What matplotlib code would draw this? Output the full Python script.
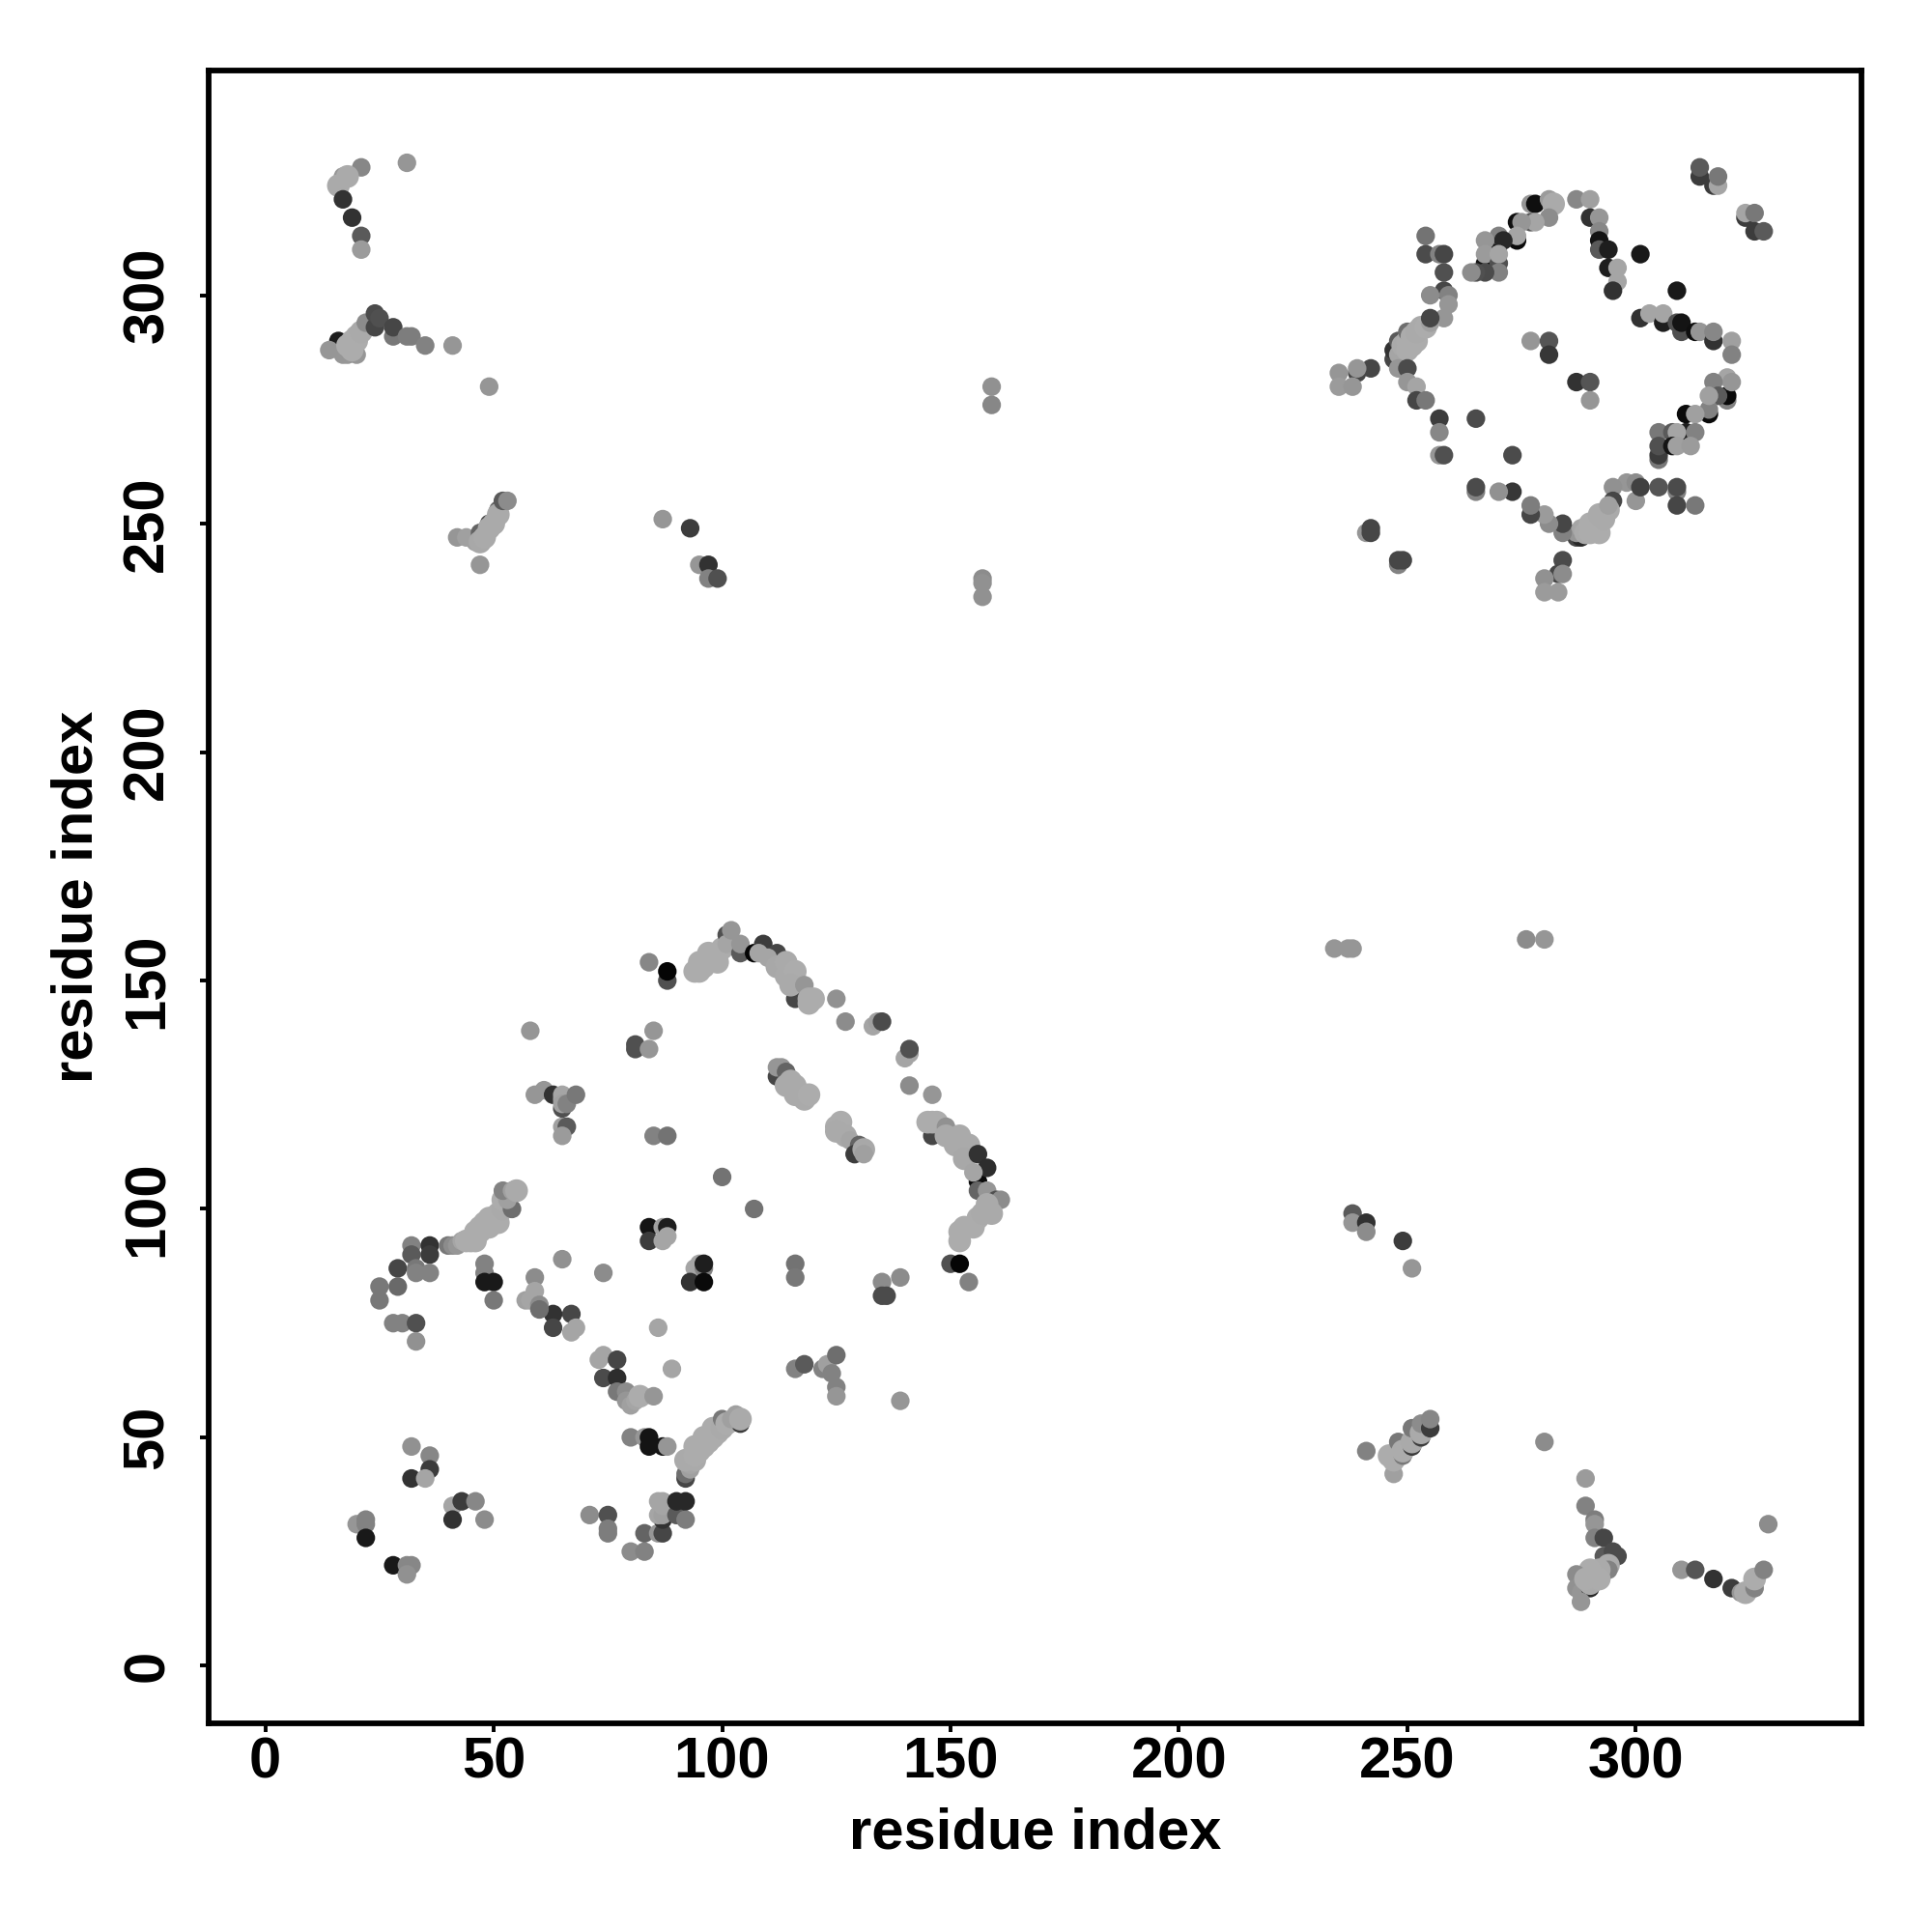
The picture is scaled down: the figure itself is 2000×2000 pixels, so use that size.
import matplotlib
matplotlib.use("Agg")
import matplotlib.pyplot as plt

# (residue i, residue j, grey level 0-255)
lower_left = [
    (28, 75, 130), (30, 75, 130), (33, 75, 80), (33, 71, 145), (32, 92, 130), (36, 92, 50), (32, 90, 90),
    (36, 90, 60), (29, 87, 70), (33, 87, 120), (36, 86, 130), (33, 86, 130), (25, 83, 120), (29, 83, 105), (25, 80, 120),
    (32, 48, 145), (36, 46, 135), (36, 43, 60), (32, 41, 50), (35, 41, 165),
    (41, 35, 165), (43, 36, 60), (46, 36, 135), (41, 32, 50), (48, 32, 140),
    (20, 31, 150), (22, 32, 130), (22, 31, 130), (22, 28, 25),
    (28, 22, 25), (31, 22, 135), (32, 22, 135), (31, 20, 145),
    (48, 88, 130), (48, 86, 130), (48, 84, 25), (50, 84, 25), (50, 80, 120), (59, 85, 140), (65, 89, 145),
    (74, 86, 140), (86, 74, 165), (89, 65, 165),
    (71, 33, 140), (75, 33, 80), (75, 30, 125), (75, 29, 125),
    (80, 25, 140), (83, 25, 130), (83, 29, 100), (86, 29, 150), (87, 29, 70),
    (87, 32, 50), (86, 33, 165), (87, 33, 160), (86, 36, 165), (87, 36, 165), (87, 35, 165),
    (90, 33, 90), (92, 32, 125), (90, 36, 40), (92, 36, 40),
    (80, 50, 130), (83, 50, 150), (84, 50, 20), (84, 48, 20), (87, 48, 20), (88, 48, 150),
]
mid_turn = [
    (73, 67, 165), (74, 68, 165), (77, 67, 70), (74, 63, 75), (77, 63, 45), (77, 60, 120), (79, 60, 140),
    (79, 58, 150), (80, 57, 160), (81, 58, 165), (82, 59, 172), (85, 59, 150),
    (63, 77, 50), (67, 77, 70), (63, 74, 70), (68, 74, 165), (67, 73, 165),
    (57, 80, 160), (58, 80, 165), (59, 82, 165), (60, 79, 140), (60, 78, 110),
    (116, 88, 115), (116, 85, 120), (116, 65, 130), (118, 66, 90),
    (122, 65, 130), (123, 66, 160), (124, 64, 130), (125, 68, 110), (125, 61, 130), (125, 59, 150), (139, 58, 150),
]
strand_41_55 = [
    (92, 41, 70), (92, 42, 110), (93, 43, 160), (93, 44, 165), (92, 45, 170), (94, 45, 170), (94, 46, 172),
    (95, 47, 172), (94, 48, 172), (96, 48, 172), (97, 49, 172), (96, 50, 172), (98, 50, 172), (99, 51, 172),
    (98, 52, 172), (100, 52, 170), (100, 54, 120), (101, 53, 172), (104, 53, 60),
    (102, 54, 160), (103, 55, 160), (104, 54, 170),
]
strand_92_104 = [
    (40, 92, 120), (41, 92, 140), (42, 92, 150), (43, 93, 165), (44, 93, 172), (45, 93, 172), (46, 93, 172),
    (46, 95, 172), (47, 95, 172), (47, 96, 172), (48, 97, 172), (49, 96, 172), (49, 98, 172), (50, 98, 172),
    (51, 97, 172), (51, 99, 172), (52, 100, 170), (52, 102, 172),
    (54, 100, 110), (53, 102, 160), (52, 104, 130), (54, 104, 160), (55, 104, 170),
]
inner_block = [
    (84, 96, 20), (87, 96, 160), (88, 96, 30), (84, 93, 60), (87, 93, 165), (88, 94, 165),
    (94, 87, 165), (95, 88, 165), (96, 87, 130), (96, 88, 30), (93, 84, 50), (96, 84, 10),
    (100, 107, 115), (107, 100, 115), (135, 84, 140), (139, 85, 140), (135, 81, 75), (136, 81, 75),
    (85, 116, 130), (88, 116, 115), (65, 118, 160), (66, 118, 90), (65, 116, 155),
    (59, 125, 150), (61, 126, 150), (63, 125, 50), (65, 122, 80), (65, 125, 165), (65, 124, 165),
    (65, 123, 160), (66, 123, 130), (68, 125, 120),
    (58, 139, 150), (85, 139, 150), (81, 136, 80), (81, 135, 80), (84, 135, 150), (84, 154, 135),
    (88, 150, 80), (88, 152, 5),
]
arc_top = [
    (94, 152, 172), (95, 152, 172), (95, 154, 172), (96, 153, 172), (97, 154, 172), (97, 156, 172), (98, 155, 172),
    (99, 156, 172), (99, 154, 172), (100, 157, 172), (101, 160, 80), (101, 158, 165), (102, 161, 150), (104, 156, 90),
    (104, 158, 150), (107, 156, 5), (109, 158, 60), (112, 156, 70), (108, 156, 165), (110, 155, 165), (112, 153, 168),
    (114, 154, 170), (114, 151, 170), (116, 146, 70), (116, 152, 172), (115, 149, 170), (118, 149, 150), (119, 145, 172),
    (119, 146, 172), (120, 146, 172), (125, 146, 145), (127, 141, 140), (133, 140, 165), (134, 141, 160),
    (135, 141, 75), (140, 133, 165), (141, 134, 165), (141, 135, 80), (141, 127, 140), (146, 125, 150),
]
inner_strands = [
    (112, 129, 70), (112, 131, 150), (113, 131, 150), (114, 130, 100), (115, 128, 170), (114, 127, 170),
    (116, 127, 170), (116, 125, 170), (118, 124, 170), (118, 125, 170), (119, 125, 172),
    (125, 118, 172), (126, 119, 172), (125, 117, 170), (127, 116, 170), (128, 115, 165),
    (130, 114, 100), (129, 112, 60), (131, 113, 168), (131, 112, 160),
]
right_chain = [
    (146, 116, 70), (145, 119, 172), (146, 119, 172), (147, 119, 172), (149, 118, 145), (149, 116, 170),
    (152, 116, 170), (151, 114, 170), (154, 114, 170), (153, 111, 168), (156, 106, 10), (156, 112, 50),
    (158, 109, 45), (155, 108, 165), (156, 104, 100), (158, 104, 150), (160, 102, 80), (161, 102, 140),
    (152, 93, 172), (152, 95, 172), (153, 96, 172), (155, 96, 172), (156, 98, 172), (157, 99, 170),
    (159, 99, 170), (158, 101, 170), (150, 88, 80), (152, 88, 5), (154, 84, 130),
]
top_left = [
    (21, 328, 135), (31, 329, 150), (17, 326, 150), (18, 326, 170), (16, 324, 170), (17, 321, 50),
    (19, 317, 50), (21, 313, 90), (21, 310, 155),
    (16, 290, 30), (14, 288, 150), (17, 287, 150), (18, 287, 150), (20, 287, 150), (18, 289, 172), (19, 290, 172),
    (20, 291, 172), (19, 288, 172), (20, 290, 172), (21, 292, 170), (22, 294, 140), (24, 293, 70), (24, 296, 75), (25, 295, 80),
    (28, 291, 120), (28, 293, 70), (31, 291, 125), (32, 291, 125), (35, 289, 130), (41, 289, 150), (49, 280, 150),
    (159, 280, 145), (159, 276, 135), (157, 238, 140), (157, 237, 145), (157, 234, 145),
    (42, 247, 150), (44, 247, 160), (46, 246, 160), (47, 241, 150), (47, 248, 100), (47, 246, 168), (48, 247, 170), (49, 250, 70),
    (49, 249, 170), (50, 250, 170), (51, 253, 100), (51, 252, 170), (52, 255, 90), (53, 255, 140),
    (87, 251, 150), (93, 249, 60), (95, 241, 150), (97, 241, 50), (97, 238, 130), (99, 238, 80),
]
right_side = [
    (234, 157, 150), (237, 157, 150), (238, 157, 150), (276, 159, 140), (280, 159, 150),
    (238, 99, 90), (238, 97, 150), (241, 97, 50), (241, 95, 140), (249, 93, 60), (251, 87, 150),
    (241, 47, 130), (247, 42, 160), (246, 46, 172), (247, 45, 172), (248, 49, 120), (249, 46, 120),
    (249, 47, 172), (251, 48, 60), (251, 49, 170), (253, 50, 60), (251, 52, 120), (253, 51, 170),
    (253, 53, 140), (255, 52, 60), (255, 54, 135),
    (280, 49, 140), (289, 41, 155), (289, 35, 130), (291, 32, 125), (291, 31, 150), (291, 28, 130), (293, 28, 70),
    (293, 24, 90), (295, 25, 75), (296, 24, 75), (294, 22, 170), (294, 21, 130), (292, 21, 170), (290, 21, 172),
    (287, 20, 140), (287, 17, 145), (288, 16, 150), (290, 17, 40), (290, 18, 170), (289, 19, 172), (292, 19, 172), (288, 14, 150),
    (310, 21, 150), (313, 21, 85), (317, 19, 50), (321, 17, 60), (323, 16, 150), (324, 16, 170),
    (326, 17, 130), (326, 19, 172), (328, 21, 130), (329, 31, 140),
]
diamond_top = [
    (314, 326, 60), (314, 328, 90), (317, 324, 60), (318, 324, 165), (318, 326, 120),
    (324, 317, 60), (324, 318, 165), (326, 318, 120), (326, 314, 60), (328, 314, 90),
    (301, 309, 25), (309, 301, 25), (287, 321, 135), (290, 321, 160),
    (290, 317, 50), (292, 317, 150), (292, 314, 135), (292, 312, 20), (292, 310, 90), (294, 310, 30),
    (294, 306, 30), (296, 306, 165), (296, 303, 165), (295, 301, 50),
    (277, 320, 150), (278, 320, 15), (281, 321, 155), (282, 320, 170), (281, 317, 140), (277, 316, 90),
    (278, 316, 165), (274, 316, 15), (275, 316, 150), (274, 312, 10), (274, 313, 165), (270, 311, 20),
    (270, 313, 130), (271, 312, 40), (267, 312, 150), (267, 307, 20), (267, 309, 155), (270, 307, 80),
    (270, 309, 165), (270, 305, 130), (267, 305, 75), (265, 305, 80), (264, 305, 140),
    (254, 313, 115), (254, 309, 75), (257, 309, 130), (258, 309, 70), (258, 305, 80), (258, 301, 70),
    (255, 300, 140), (259, 300, 130), (259, 298, 150), (258, 295, 150),
]
diamond_left = [
    (247, 286, 70), (247, 288, 50), (248, 290, 90), (248, 287, 165), (249, 289, 170), (250, 288, 172),
    (250, 290, 172), (250, 292, 110), (251, 289, 172), (251, 291, 172), (252, 290, 172), (252, 292, 170), (253, 293, 170),
    (254, 293, 172), (255, 294, 160), (255, 295, 70),
    (248, 284, 150), (250, 284, 75), (242, 284, 70), (239, 283, 70), (239, 284, 150), (235, 283, 150),
    (235, 280, 155), (238, 280, 150), (250, 281, 150), (252, 280, 165), (252, 277, 70), (254, 277, 120),
    (257, 273, 60), (257, 270, 135), (257, 265, 150), (258, 265, 80), (265, 273, 75), (273, 265, 75),
    (277, 290, 150), (281, 290, 85), (281, 287, 55), (287, 281, 50), (290, 281, 85), (290, 277, 150),
]
diamond_right = [
    (301, 295, 50), (303, 296, 165), (306, 294, 30), (306, 296, 165), (309, 294, 80), (310, 292, 80), (310, 294, 20),
    (313, 292, 15), (314, 292, 150), (317, 290, 50), (317, 292, 135), (321, 290, 160), (321, 287, 130),
    (320, 277, 130), (320, 278, 10), (320, 282, 165), (321, 281, 150), (317, 281, 130), (318, 278, 90),
    (316, 274, 10), (316, 275, 130), (316, 278, 160), (311, 274, 10), (313, 274, 160), (311, 270, 30),
    (313, 270, 130), (305, 270, 120), (308, 270, 90), (309, 270, 165), (305, 264, 120), (305, 265, 60), (305, 267, 80),
    (308, 267, 20), (309, 267, 160), (312, 267, 155),
]
diamond_bottom = [
    (309, 257, 130), (309, 258, 75), (305, 258, 85), (309, 254, 70), (313, 254, 120), (300, 255, 150),
    (298, 259, 150), (300, 259, 140), (301, 258, 65), (295, 258, 145), (295, 255, 70),
    (287, 247, 70), (288, 247, 40), (287, 248, 150), (288, 249, 165), (289, 248, 170), (290, 248, 172), (290, 250, 172),
    (291, 249, 172), (292, 248, 172), (292, 250, 172), (292, 252, 170), (293, 251, 170), (294, 253, 170), (294, 254, 160),
    (284, 248, 130), (284, 250, 70), (281, 250, 140), (280, 252, 155), (277, 252, 70), (277, 254, 125),
    (273, 257, 55), (270, 257, 145), (265, 257, 130), (265, 258, 75),
    (284, 242, 75), (283, 239, 70), (284, 239, 140), (280, 238, 145), (280, 235, 155), (283, 235, 155),
    (241, 248, 150), (242, 248, 70), (242, 249, 70), (248, 241, 130), (248, 242, 70), (249, 242, 70),
]

regions = [lower_left, mid_turn, strand_41_55, strand_92_104, inner_block, arc_top, inner_strands, right_chain,
           top_left, right_side, diamond_top, diamond_left, diamond_right, diamond_bottom]
ticks = [0, 50, 100, 150, 200, 250, 300]

plt.rcParams["font.family"] = ["Liberation Sans", "DejaVu Sans"]
plt.rcParams["font.weight"] = "bold"

fig = plt.figure(figsize=(10, 10), dpi=200)
ax = fig.add_axes([0.108, 0.108, 0.8555, 0.8555])

# the lightest contacts are also drawn a little wider
for region in regions:
    xs, ys, greys = zip(*region)
    sizes = [72 if g >= 168 else 48 for g in greys]
    ax.scatter(xs, ys, c=greys, s=sizes, cmap="gray", vmin=0, vmax=255, linewidths=0, zorder=2)

ax.set_xlim(-12.4, 349.4)
ax.set_ylim(-12.6, 349.2)
ax.set_xticks(ticks)
ax.set_yticks(ticks)
ax.tick_params(axis="x", length=3.2, width=1.4, labelsize=21.5, pad=1.5)
ax.tick_params(axis="y", length=3.2, width=1.4, labelsize=21.5, pad=9.5)
for lab in ax.get_yticklabels():
    lab.set_rotation(90)
    lab.set_va("center")
for s in ax.spines.values():
    s.set_linewidth(2.1)
ax.set_xlabel("residue index", fontsize=21.5, fontweight="bold", labelpad=6.5)
ax.set_ylabel("residue index", fontsize=21.5, fontweight="bold", labelpad=6.5)

fig.savefig("out.png", dpi=200)
